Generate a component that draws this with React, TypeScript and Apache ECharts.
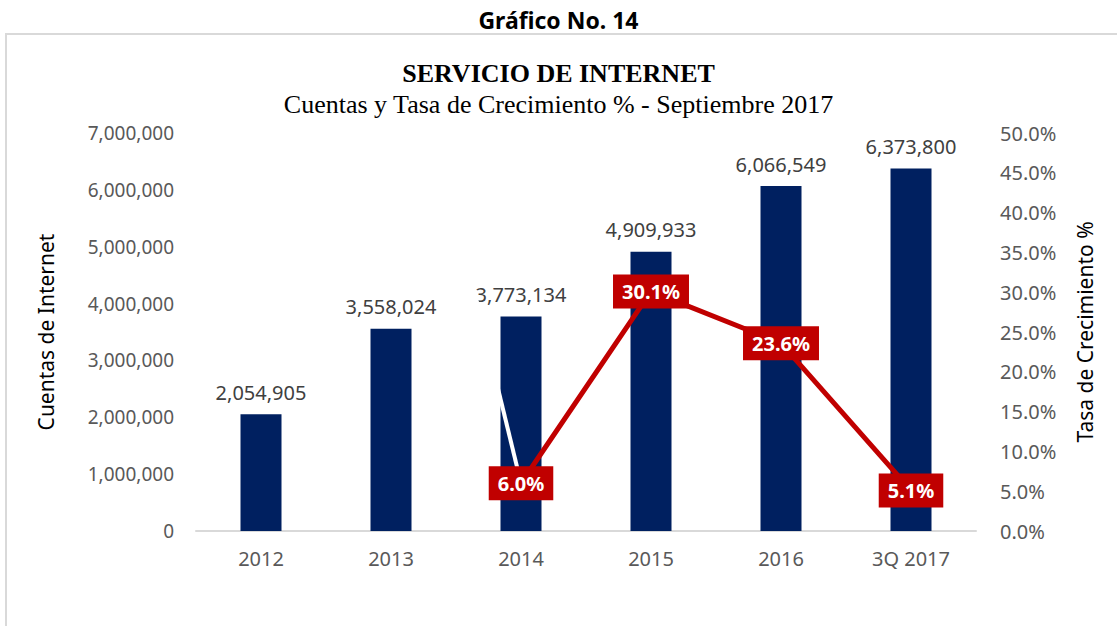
import React, { useEffect, useRef } from "react";
import * as echarts from "echarts";

const categories = ["2012", "2013", "2014", "2015", "2016", "3Q 2017"];
const cuentas = [2054905, 3558024, 3773134, 4909933, 6066549, 6373800];
// growth rate (%) — 2013 value lies above the axis range
const tasa = [null, 73.2, 6.0, 30.1, 23.6, 5.1];

const leftTicks = { min: 0, max: 7000000, interval: 1000000 };
const rightTicks = { min: 0, max: 50, interval: 5 };

const SANS = "'Noto Sans', 'Open Sans', sans-serif";
const SERIF = "'Liberation Serif', 'DejaVu Serif', serif";

export default function App() {
  const ref = useRef<HTMLDivElement>(null);
  useEffect(() => {
    if (!ref.current) return;
    const chart = echarts.init(ref.current, null, { renderer: "svg" });
    const whiteSeg = tasa.map((v, i) => (i === 1 || i === 2 ? v : null));
    const redSeg = tasa.map((v, i) => (i >= 2 ? v : null));
    chart.setOption({
      animation: false,
      backgroundColor: "#ffffff",
      graphic: [
        {
          type: "rect",
          shape: { x: 6, y: 34, width: 1130, height: 620 },
          style: { fill: "none", stroke: "#d9d9d9", lineWidth: 2 },
          silent: true,
          z: -10,
        },
      ],
      title: [
        {
          text: "Gráfico No. 14",
          left: "center",
          top: 3,
          textStyle: { fontFamily: SANS, fontWeight: "bold", fontSize: 23, color: "#000" },
        },
        {
          text: "SERVICIO DE INTERNET",
          left: "center",
          top: 55,
          textStyle: { fontFamily: SERIF, fontWeight: "bold", fontSize: 26, color: "#000" },
        },
        {
          text: "Cuentas y Tasa de Crecimiento % - Septiembre 2017",
          left: "center",
          top: 86,
          textStyle: { fontFamily: SERIF, fontWeight: "normal", fontSize: 26, color: "#000" },
        },
      ],
      grid: { left: 196, right: 141, top: 133, bottom: 95 },
      xAxis: {
        type: "category",
        data: categories,
        axisLine: { lineStyle: { color: "#d9d9d9", width: 2 } },
        axisTick: { show: false },
        axisLabel: { color: "#595959", fontFamily: SANS, fontSize: 20, margin: 17 },
      },
      yAxis: [
        {
          type: "value",
          ...leftTicks,
          splitLine: { show: false },
          axisLine: { show: false },
          axisTick: { show: false },
          axisLabel: {
            color: "#595959",
            fontFamily: SANS,
            fontSize: 19,
            margin: 22,
            formatter: (v: number) => v.toLocaleString("en-US"),
          },
          name: "Cuentas de Internet",
          nameLocation: "middle",
          nameRotate: 90,
          nameGap: 140,
          nameTextStyle: { color: "#000", fontFamily: SANS, fontSize: 21 },
        },
        {
          type: "value",
          ...rightTicks,
          splitLine: { show: false },
          axisLine: { show: false },
          axisTick: { show: false },
          axisLabel: {
            color: "#595959",
            fontFamily: SANS,
            fontSize: 20,
            margin: 24,
            formatter: (v: number) => v.toFixed(1) + "%",
          },
          name: "Tasa de Crecimiento %",
          nameLocation: "middle",
          nameRotate: 90,
          nameGap: 98,
          nameTextStyle: { color: "#000", fontFamily: SANS, fontSize: 21 },
        },
      ],
      series: [
        {
          type: "bar",
          data: cuentas,
          barWidth: 41,
          itemStyle: { color: "#002060" },
          label: {
            show: true,
            position: "top",
            distance: 12,
            color: "#404040",
            fontFamily: SANS,
            fontSize: 20,
            formatter: (p: any) => Number(p.value).toLocaleString("en-US"),
          },
          z: 2,
        },
        {
          type: "line",
          yAxisIndex: 1,
          data: whiteSeg,
          symbol: "none",
          lineStyle: { color: "#ffffff", width: 4 },
          z: 3,
          silent: true,
        },
        {
          type: "line",
          yAxisIndex: 1,
          data: redSeg,
          symbol: "circle",
          symbolSize: 2,
          itemStyle: { color: "#C00000" },
          lineStyle: { color: "#C00000", width: 5 },
          z: 4,
          label: {
            show: true,
            position: "inside",
            backgroundColor: "#C00000",
            color: "#ffffff",
            fontWeight: "bold",
            fontFamily: SANS,
            fontSize: 20,
            padding: [7, 9],
            formatter: (p: any) => Number(p.value).toFixed(1) + "%",
          },
        },
      ],
    });
    return () => chart.dispose();
  }, []);
  return (
    <div
      ref={ref}
      style={{ position: "fixed", left: 0, top: 0, width: 1117, height: 626 }}
    />
  );
}
